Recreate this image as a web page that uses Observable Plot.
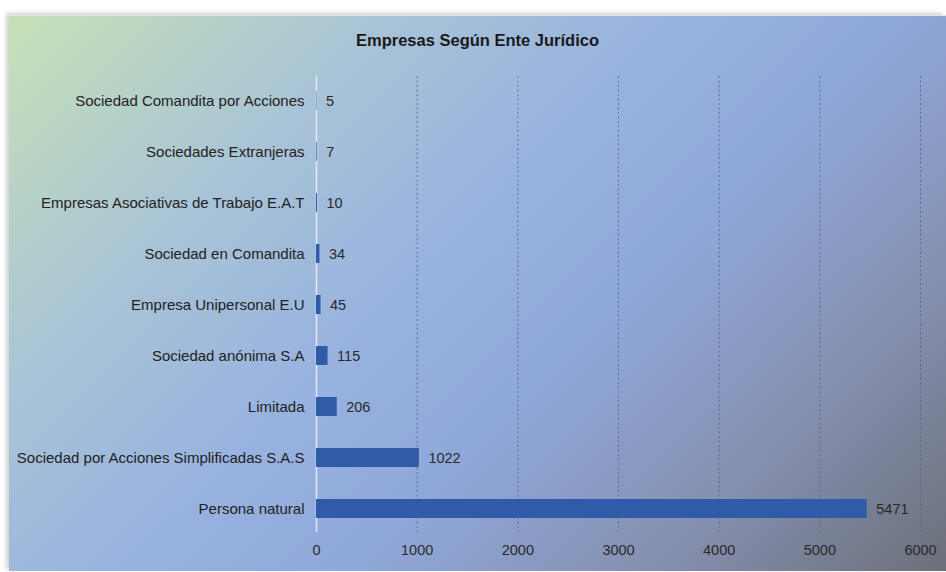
<!DOCTYPE html>
<html>
<head>
<meta charset="utf-8">
<script src="https://cdn.jsdelivr.net/npm/d3@7"></script>
<script src="https://cdn.jsdelivr.net/npm/@observablehq/plot@0.6"></script>
<style>
  html, body { margin: 0; padding: 0; background: #ffffff; width: 946px; height: 572px; overflow: hidden; }
  #frame {
    position: absolute; left: 9px; top: 15px; width: 937px; height: 555px;
    background: linear-gradient(135deg, #c6e1b6 0%, #a9c4d6 25%, #98b2e0 45%, #8fa8da 60%, #8590b0 80%, #6c707a 100%);
    box-shadow: -3px -2px 4px rgba(0,0,0,0.18);
    border-top: 1px solid #e4e4e4;
    font-family: "Liberation Sans", Arial, sans-serif;
  }
  #title {
    position: absolute; left: 0; width: 100%; top: 15px; text-align: center;
    font-weight: bold; font-size: 16.5px; color: #1a1a1a;
  }
  #chart { position: absolute; left: 0; top: 48px; }
</style>
</head>
<body>
<div id="frame">
  <div id="title">Empresas Según Ente Jurídico</div>
  <div id="chart"></div>
</div>
<script>
const categories = [
  "Sociedad Comandita por Acciones",
  "Sociedades Extranjeras",
  "Empresas Asociativas de Trabajo E.A.T",
  "Sociedad en Comandita",
  "Empresa Unipersonal E.U",
  "Sociedad anónima S.A",
  "Limitada",
  "Sociedad por Acciones Simplificadas S.A.S",
  "Persona natural"
];
const values = [5, 7, 10, 34, 45, 115, 206, 1022, 5471];
const xTicks = [0, 1000, 2000, 3000, 4000, 5000, 6000];

const data = categories.map((c, i) => ({ category: c, value: values[i] }));

const chart = Plot.plot({
  width: 937,
  height: 507,
  marginLeft: 307,
  marginRight: 26,
  marginTop: 8,
  marginBottom: 35,
  style: { background: "transparent", fontFamily: "Liberation Sans, Arial, sans-serif", overflow: "visible" },
  x: { domain: [0, 6000], ticks: xTicks, label: null },
  y: { domain: categories, padding: 0, label: null },
  marks: [
    Plot.ruleX(xTicks.filter(d => d > 0), { stroke: "#56648a", strokeOpacity: 0.85, strokeDasharray: "2,2.5", strokeWidth: 1, insetTop: 4, insetBottom: 4 }),
    Plot.ruleX([0], { stroke: "#e4eaf4", strokeWidth: 1.5, insetTop: 4, insetBottom: 4 }),
    Plot.barX(data, { y: "category", x: "value", fill: "#2f5ba8", insetTop: 16, insetBottom: 16 }),
    Plot.text(data, { y: "category", x: "value", text: d => String(d.value), textAnchor: "start", dx: 9, fill: "#2a2a2a", fontSize: 14.5 }),
    Plot.axisX({ ticks: xTicks, tickSize: 0, tickPadding: 8, fontSize: 14.5, color: "#2a2a2a", tickFormat: d => String(d) }),
    Plot.axisY({ tickSize: 0, tickPadding: 12, fontSize: 15, color: "#222" })
  ]
});
document.getElementById("chart").appendChild(chart);
</script>
</body>
</html>
